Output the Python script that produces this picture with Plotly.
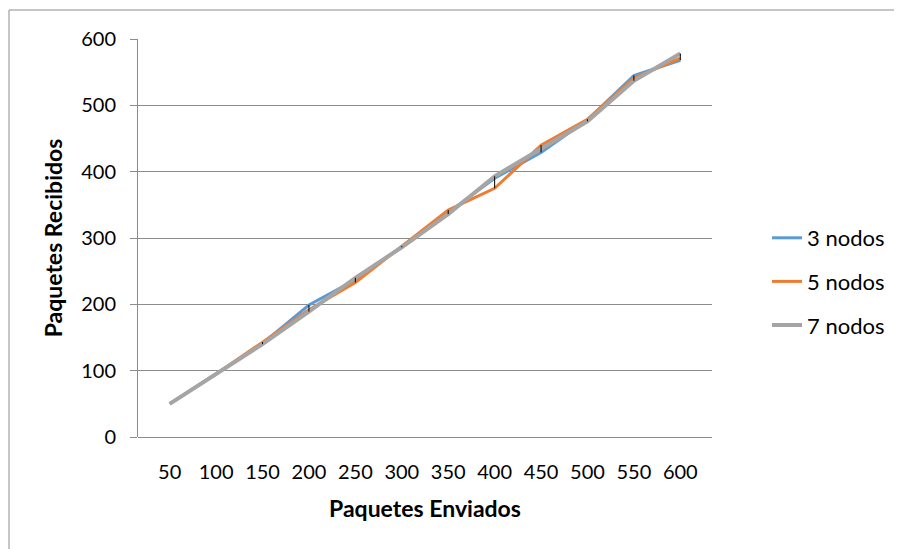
import plotly.graph_objects as go

enviados = ["50", "100", "150", "200", "250", "300", "350", "400", "450", "500", "550", "600"]
nodos3 = [50, 95, 141, 199, 237, 287, 338, 390, 429, 478, 545, 568]
nodos5 = [50, 95, 143, 192, 233, 288, 342, 375, 440, 479, 541, 571]
nodos7 = [50, 95, 140, 189, 240, 286, 336, 393, 434, 476, 537, 578]
y_ticks = [0, 100, 200, 300, 400, 500, 600]

FONT = "Lato"
GRID = "#8c8c8c"

fig = go.Figure()
series = [("3 nodos", nodos3, "#5B9BD5", 3),
          ("5 nodos", nodos5, "#ED7D31", 3),
          ("7 nodos", nodos7, "#A5A5A5", 4)]
for i, (name, vals, color, w) in enumerate(series):
    fig.add_trace(go.Scatter(x=enviados, y=vals, mode="lines", name=name,
                             line=dict(color=color, width=w), legendgroup=str(i)))

# error bars spanning the range of the three series
lo = [min(a, b, c) for a, b, c in zip(nodos3, nodos5, nodos7)]
hi = [max(a, b, c) for a, b, c in zip(nodos3, nodos5, nodos7)]
mid = [(a + b) / 2 for a, b in zip(lo, hi)]
half = [(b - a) / 2 for a, b in zip(lo, hi)]
fig.add_trace(go.Scatter(x=enviados, y=mid, mode="markers", showlegend=False,
                         marker=dict(size=0.1, color="rgba(0,0,0,0)"),
                         error_y=dict(type="data", array=half, symmetric=True,
                                      color="black", thickness=1, width=0),
                         hoverinfo="skip"))

# page has an 8px body margin, so figure coords = page coords - 8
OFF = 8
W, H = 902 - OFF, 549 - OFF
L, R, T, B = 138 - OFF, 712 - OFF, 39 - OFF, 437 - OFF
pw, ph = R - L, B - T
fig.add_shape(type="rect", xref="paper", yref="paper",
              x0=(9 - OFF - L) / pw, x1=(W + 30 - L) / pw,
              y0=-(H + 30 - B) / ph, y1=1 + (T - (10 - OFF)) / ph,
              line=dict(color="#8c8c8c", width=1), fillcolor="rgba(0,0,0,0)", layer="below")

fig.update_layout(
    width=W, height=H,
    margin=dict(l=L, r=W - R, t=T, b=H - B, autoexpand=False),
    paper_bgcolor="white", plot_bgcolor="white",
    font=dict(family=FONT, size=20, color="black"),
    showlegend=True,
    legend=dict(x=(767 - OFF - L) / pw, y=1 - (217 - OFF - T) / ph,
                xanchor="left", yanchor="top",
                font=dict(family=FONT, size=22), tracegroupgap=12,
                traceorder="grouped", bgcolor="rgba(0,0,0,0)"),
    xaxis=dict(type="category", showgrid=False, showline=False, ticks="",
               ticklabelstandoff=21, tickfont=dict(size=20),
               title=dict(text="<b>Paquetes Enviados</b>", standoff=18,
                          font=dict(size=23))),
    yaxis=dict(range=[0, 600], tickvals=y_ticks, showgrid=True, gridcolor=GRID,
               gridwidth=1, showline=True, linecolor=GRID, linewidth=1,
               ticks="outside", ticklen=7, tickcolor=GRID, ticklabelstandoff=10,
               zeroline=True, zerolinecolor=GRID, zerolinewidth=1,
               tickfont=dict(size=20),
               title=dict(text="<b>Paquetes Recibidos</b>", standoff=12,
                          font=dict(size=23))),
)

fig.write_html("out.html")
